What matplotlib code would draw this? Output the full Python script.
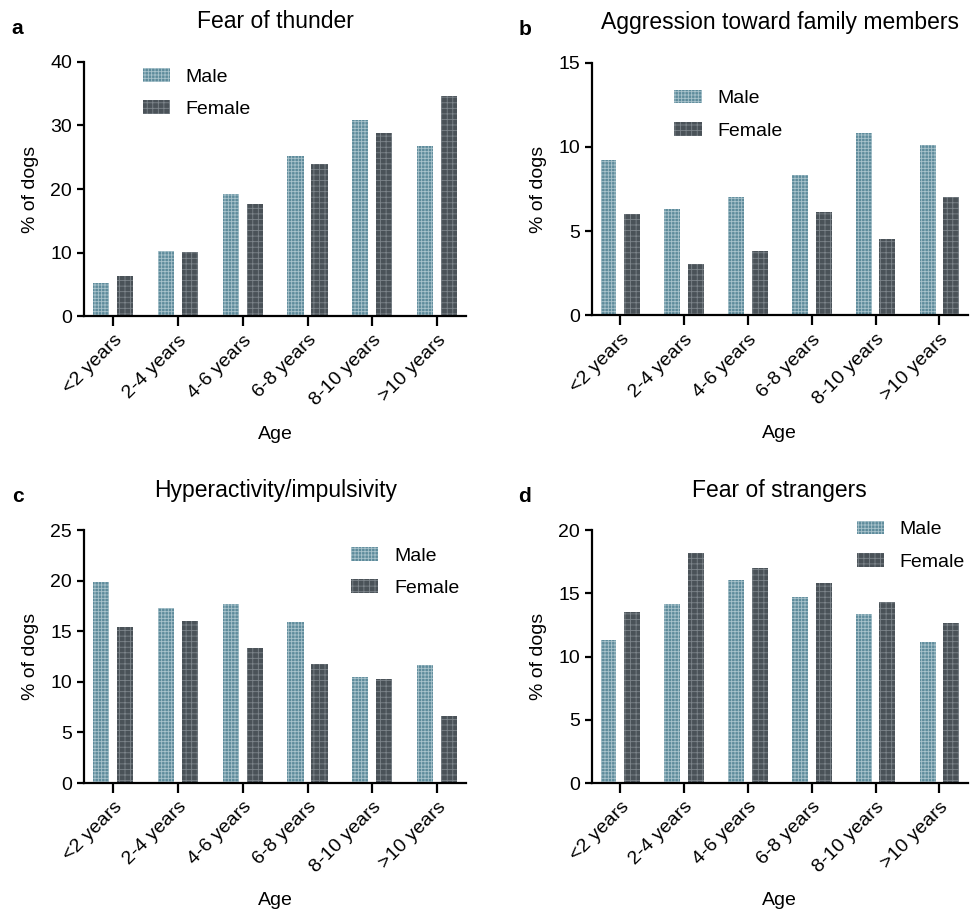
import numpy as np
import matplotlib
matplotlib.use("Agg")
import matplotlib.pyplot as plt

plt.rcParams['font.family'] = ['Liberation Sans', 'DejaVu Sans']
plt.rcParams['hatch.linewidth'] = 0.6

ages = ['<2 years', '2-4 years', '4-6 years', '6-8 years', '8-10 years', '>10 years']

thunder_male = [5.3, 10.3, 19.3, 25.2, 30.9, 26.7]
thunder_female = [6.4, 10.1, 17.6, 23.9, 28.8, 34.7]

aggr_male = [9.2, 6.3, 7.05, 8.33, 10.8, 10.14]
aggr_female = [6.0, 3.06, 3.83, 6.16, 4.54, 7.0]

hyper_male = [19.87, 17.34, 17.7, 15.9, 10.46, 11.64]
hyper_female = [15.4, 16.0, 13.4, 11.8, 10.3, 6.64]

strangers_male = [11.3, 14.16, 16.03, 14.76, 13.34, 11.16]
strangers_female = [13.5, 18.2, 17.0, 15.84, 14.3, 12.68]

male_color = '#5d8b9b'
female_color = '#4a5258'

panels = [
    ('a', 'Fear of thunder', thunder_male, thunder_female, 40, 10,
     [0.0863, 0.652, 0.393, 0.280], (0.154, 0.976)),
    ('b', 'Aggression toward family members', aggr_male, aggr_female, 15, 5,
     [0.608, 0.653, 0.387, 0.278], (0.220, 0.893)),
    ('c', 'Hyperactivity/impulsivity', hyper_male, hyper_female, 25, 5,
     [0.0863, 0.1386, 0.393, 0.278], (0.699, 0.933)),
    ('d', 'Fear of strangers', strangers_male, strangers_female, 20, 5,
     [0.608, 0.1386, 0.387, 0.278], (0.704, 1.038)),
]

fig = plt.figure(figsize=(9.73, 9.09), dpi=100)

x = np.arange(len(ages))
w = 0.25
off = 0.185

for letter, title, male, female, ymax, step, pos, legpos in panels:
    ax = fig.add_axes(pos)
    ax.bar(x - off, male, width=w, color=male_color, edgecolor='#a9c3cc',
           linewidth=0, hatch='+++++', label='Male')
    ax.bar(x + off, female, width=w, color=female_color, edgecolor='#7d858b',
           linewidth=0, hatch='+++', label='Female')
    ax.set_xlim(-0.45, 5.45)
    ax.set_ylim(0, ymax)
    ax.set_yticks(np.arange(0, ymax + 1, step))
    ax.set_xticks(x)
    ax.set_xticklabels(ages, rotation=45, ha='right', rotation_mode='anchor')
    ax.spines['top'].set_visible(False)
    ax.spines['right'].set_visible(False)
    ax.spines['left'].set_linewidth(1.6)
    ax.spines['bottom'].set_linewidth(1.6)
    ax.tick_params(axis='both', width=1.6, labelsize=14)
    ax.tick_params(axis='x', length=7, pad=4)
    ax.tick_params(axis='y', length=5)
    ax.set_xlabel('Age', fontsize=14, labelpad=12)
    ax.set_ylabel('% of dogs', fontsize=14, labelpad=8)
    ax.set_title(title, fontsize=16.5, pad=24)
    ax.legend(loc='upper left', bbox_to_anchor=legpos, frameon=False,
              fontsize=14, handlelength=1.4, handleheight=0.7,
              labelspacing=0.75, handletextpad=0.8,
              borderpad=0, borderaxespad=0)
    bb = ax.get_position()
    fig.text(0.012 if bb.x0 < 0.5 else 0.533, bb.y1 + 0.037, letter,
             fontsize=15, fontweight='bold', va='center')

fig.savefig('out.png', dpi=100)
